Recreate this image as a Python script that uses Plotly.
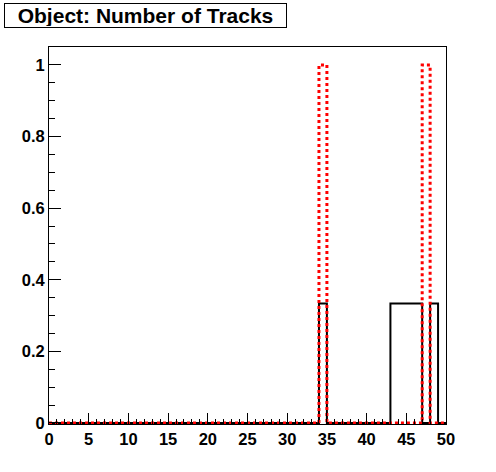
import plotly.graph_objects as go

# histogram contents, 50 unit bins from 0 to 50
bin_edges = list(range(0, 51))
black_counts = [0.0] * 50
for b in [34, 43, 44, 45, 46, 48]:
    black_counts[b] = 1 / 3
red_counts = [0.0] * 50
for b in [34, 47]:
    red_counts[b] = 1.0

y_ticks = [0, 0.2, 0.4, 0.6, 0.8, 1]
y_labels = ["0", "0.2", "0.4", "0.6", "0.8", "1"]

W, H = 496, 472
L, R, T, B = 49, 50, 47, 48

fig = go.Figure()
fig.add_trace(go.Scatter(
    x=bin_edges, y=black_counts + [black_counts[-1]],
    mode="lines", line=dict(color="black", width=2, shape="hv"),
    showlegend=False,
))
fig.add_trace(go.Scatter(
    x=bin_edges, y=red_counts + [red_counts[-1]],
    mode="lines", line=dict(color="#ff0000", width=3, shape="hv", dash="dot"),
    showlegend=False,
))

axis_font = dict(family="Liberation Sans, Arial", size=16.5, color="black", weight="bold")
fig.update_xaxes(
    range=[0, 50], tickvals=list(range(0, 51, 5)),
    ticks="inside", ticklen=11, tickwidth=1, tickcolor="black",
    minor=dict(ticks="inside", dtick=1, tick0=0, ticklen=5, tickcolor="black"),
    showline=True, linecolor="black", linewidth=1, mirror=True,
    showgrid=False, zeroline=False, tickfont=axis_font,
)
fig.update_yaxes(
    range=[-0.003, 1.05], tickvals=y_ticks, ticktext=y_labels,
    ticks="inside", ticklen=12, tickwidth=1, tickcolor="black",
    minor=dict(ticks="inside", dtick=0.05, tick0=0, ticklen=6, tickcolor="black"),
    showline=True, linecolor="black", linewidth=1, mirror=True,
    showgrid=False, zeroline=False, tickfont=axis_font,
)

fig.add_annotation(
    text="Object: Number of Tracks",
    xref="paper", yref="paper",
    x=(4 - L) / (W - L - R), y=1 + (T - 3) / (H - T - B),
    xanchor="left", yanchor="top", showarrow=False,
    width=279, height=21, borderpad=1,
    bordercolor="black", borderwidth=1, bgcolor="white",
    font=dict(family="Liberation Sans, Arial", size=21, color="black", weight="bold"),
)

fig.update_layout(
    width=W, height=H,
    margin=dict(l=L, r=R, t=T, b=B),
    paper_bgcolor="white", plot_bgcolor="white",
)

# drop the browser's default body margin so the canvas sits at 0,0
fig.write_html("out.html", config={"displayModeBar": False},
               post_script="document.body.style.margin='0';")
